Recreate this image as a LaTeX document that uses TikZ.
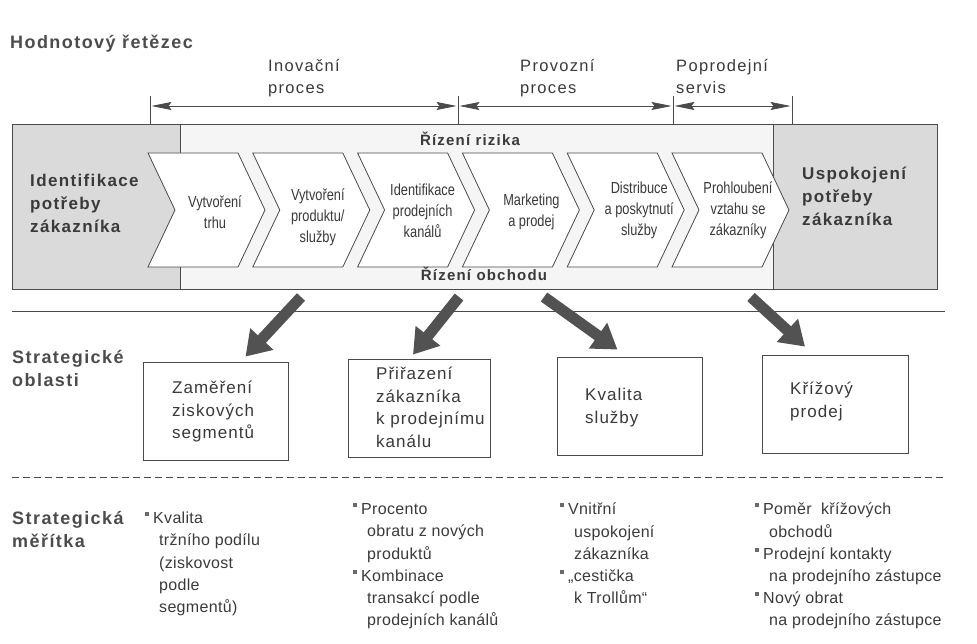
\documentclass[tikz,border=0pt]{standalone}
\usepackage{fontspec}
\setmainfont{Liberation Sans}
\newfontfamily\spacedfont[LetterSpace=8]{Liberation Sans}
\newfontfamily\boxfont[LetterSpace=6]{Liberation Sans}
\newfontfamily\narrowfont[FakeStretch=0.8]{Liberation Sans}
\newfontfamily\listfont[LetterSpace=2]{Liberation Sans}
\usetikzlibrary{arrows.meta}
\definecolor{inkc}{HTML}{3A3A3A}
\definecolor{headc}{HTML}{4C4C4C}
\definecolor{linec}{HTML}{4A4A4A}
\definecolor{sidegray}{HTML}{DADADA}
\definecolor{bandfill}{HTML}{F5F5F5}
\definecolor{arrowc}{HTML}{525252}
\definecolor{bulletc}{HTML}{6A6A6A}
\newcommand{\listbullet}{\hspace*{-14pt}\makebox[8pt][l]{\textcolor{bulletc}{\rule[7.5pt]{4pt}{4pt}}}}
\begin{document}
\begin{tikzpicture}[x=1pt,y=-1pt,
  heading/.style={anchor=north west, inner sep=0pt, align=left, text=headc,
    font=\spacedfont\bfseries\fontsize{18}{23}\selectfont},
  sidelabel/.style={anchor=north west, inner sep=0pt, align=left, text=inkc,
    font=\spacedfont\bfseries\fontsize{17}{23}\selectfont},
  phase/.style={anchor=north west, inner sep=0pt, align=left, text=inkc,
    font=\spacedfont\fontsize{16.5}{22}\selectfont},
  bandlabel/.style={inner sep=0pt, text=inkc,
    font=\spacedfont\bfseries\fontsize{15}{18}\selectfont},
  chevtext/.style={inner sep=0pt, align=center, text=inkc,
    font=\narrowfont\fontsize{16}{21}\selectfont},
  chev/.style={draw=linec, line width=0.8pt, fill=white, line join=miter},
  sbox/.style={draw=linec, line width=0.8pt, fill=white, inner sep=0pt},
  boxtext/.style={anchor=north west, inner sep=0pt, align=left, text=inkc,
    font=\boxfont\fontsize{17}{22.5}\selectfont},
  listtext/.style={anchor=north west, inner sep=0pt, align=left, text=inkc,
    font=\listfont\fontsize{16}{22.2}\selectfont},
  spanarrow/.style={draw=linec, line width=0.7pt,
    {Stealth[length=20pt,width=8pt,inset=3pt]}-{Stealth[length=20pt,width=8pt,inset=3pt]},
    shorten <=1.5pt, shorten >=1.5pt},
  tick/.style={draw=linec, line width=0.7pt},
  bigarrow/.style={draw=arrowc, line width=11pt,
    -{Triangle[length=24pt,width=30pt]}},
  rule/.style={draw=linec, line width=0.9pt}]
\useasboundingbox (0,0) rectangle (977,644);

% ---------- value chain band ----------
\fill[bandfill] (12,125) rectangle (937,290);
\fill[sidegray] (12,125) rectangle (180,290);
\fill[sidegray] (773,125) rectangle (937,290);
\draw[line width=0.6pt, linec] (180,125) -- (180,290);
\draw[line width=0.6pt, linec] (773,125) -- (773,290);
\draw[line width=1pt, linec] (12,125) rectangle (937,290);

% process chevrons
\foreach \i in {0,...,5}{
  \pgfmathsetmacro{\xo}{148+104.8*\i}
  \draw[chev] (\xo,153) -- (\xo+90,153) -- (\xo+117,210) -- (\xo+90,267)
    -- (\xo,267) -- (\xo+27,210) -- cycle;
}
\node[chevtext] (c1) at (148+67,212) {Vytvoření\\trhu};
\node[chevtext] (c2) at (252.8+65,217) {Vytvoření\\produktu/\\služby};
\node[chevtext] (c3) at (357.6+65,211) {Identifikace\\prodejních\\kanálů};
\node[chevtext] (c4) at (462.4+69,212) {Marketing\\a prodej};
\node[chevtext] (c5) at (567.2+72,210) {Distribuce\\a poskytnutí\\služby};
\node[chevtext] (c6) at (672+66,210) {Prohloubení\\vztahu se\\zákazníky};

\node[sidelabel] (need) at (30,174) {Identifikace\\potřeby\\zákazníka};
\node[sidelabel] (satisf) at (802,167) {Uspokojení\\potřeby\\zákazníka};

\node[bandlabel] (risk) at (470,139) {Řízení rizika};
\node[bandlabel] (trade) at (484,274) {Řízení obchodu};

% ---------- title and process spans ----------
\node[heading] (title) at (10,35) {Hodnotový řetězec};

\coordinate (k1) at (150,106);
\coordinate (k2) at (458,106);
\coordinate (k3) at (673,106);
\coordinate (k4) at (792,106);
\foreach \k in {k1,k2,k3,k4}{
  \draw[tick] ([yshift=10pt]\k) -- ([yshift=-19pt]\k);
}
\draw[spanarrow] (k1) -- (k2);
\draw[spanarrow] (k2) -- (k3);
\draw[spanarrow] (k3) -- (k4);

\node[phase] (innov) at (268,59) {Inovační\\proces};
\node[phase] (oper) at (520,59) {Provozní\\proces};
\node[phase] (after) at (676,59) {Poprodejní\\servis};

% ---------- strategic areas ----------
\draw[rule] (12,311) -- (945,311);
\node[heading] (areas) at (12,350) {Strategické\\oblasti};

\node[sbox, minimum width=145pt, minimum height=98pt] (b1) at (215.5,411) {};
\node[sbox, minimum width=142pt, minimum height=98pt] (b2) at (419,408) {};
\node[sbox, minimum width=145pt, minimum height=98pt] (b3) at (629.5,406) {};
\node[sbox, minimum width=146pt, minimum height=98pt] (b4) at (835,404) {};

\node[boxtext] (b1t) at (172,381) {Zaměření\\ziskových\\segmentů};
\node[boxtext] (b2t) at (376,367) {Přiřazení\\zákazníka\\k prodejnímu\\kanálu};
\node[boxtext] (b3t) at (585,388) {Kvalita\\služby};
\node[boxtext] (b4t) at (790,382) {Křížový\\prodej};

\coordinate (a1s) at (301,297);
\coordinate (a2s) at (459,297);
\coordinate (a3s) at (544,297);
\coordinate (a4s) at (751,297);
\coordinate (a1e) at ([xshift=30pt,yshift=5pt]b1.north);
\coordinate (a2e) at ([xshift=-6pt,yshift=4pt]b2.north);
\coordinate (a3e) at ([xshift=-12pt,yshift=7pt]b3.north);
\coordinate (a4e) at ([xshift=-30pt,yshift=8pt]b4.north);
\draw[bigarrow] (a1s) -- (a1e);
\draw[bigarrow] (a2s) -- (a2e);
\draw[bigarrow] (a3s) -- (a3e);
\draw[bigarrow] (a4s) -- (a4e);

% ---------- strategic measures ----------
\draw[rule, line width=0.8pt, dash pattern=on 7pt off 4pt] (12,477) -- (945,477);
\node[heading] (measures) at (12,511) {Strategická\\měřítka};

\node[listtext] (m1) at (159,512) {\listbullet Kvalita\\tržního podílu\\(ziskovost\\podle\\segmentů)};
\node[listtext] (m2) at (367,503) {\listbullet Procento\\obratu z nových\\produktů\\\listbullet Kombinace\\transakcí podle\\prodejních kanálů};
\node[listtext] (m3) at (574,503) {\listbullet Vnitřní\\uspokojení\\zákazníka\\\listbullet „cestička\\k Trollům“};
\node[listtext] (m4) at (769,503) {\listbullet Poměr\ \ křížových\\obchodů\\\listbullet Prodejní kontakty\\na prodejního zástupce\\\listbullet Nový obrat\\na prodejního zástupce};
\end{tikzpicture}
\end{document}
